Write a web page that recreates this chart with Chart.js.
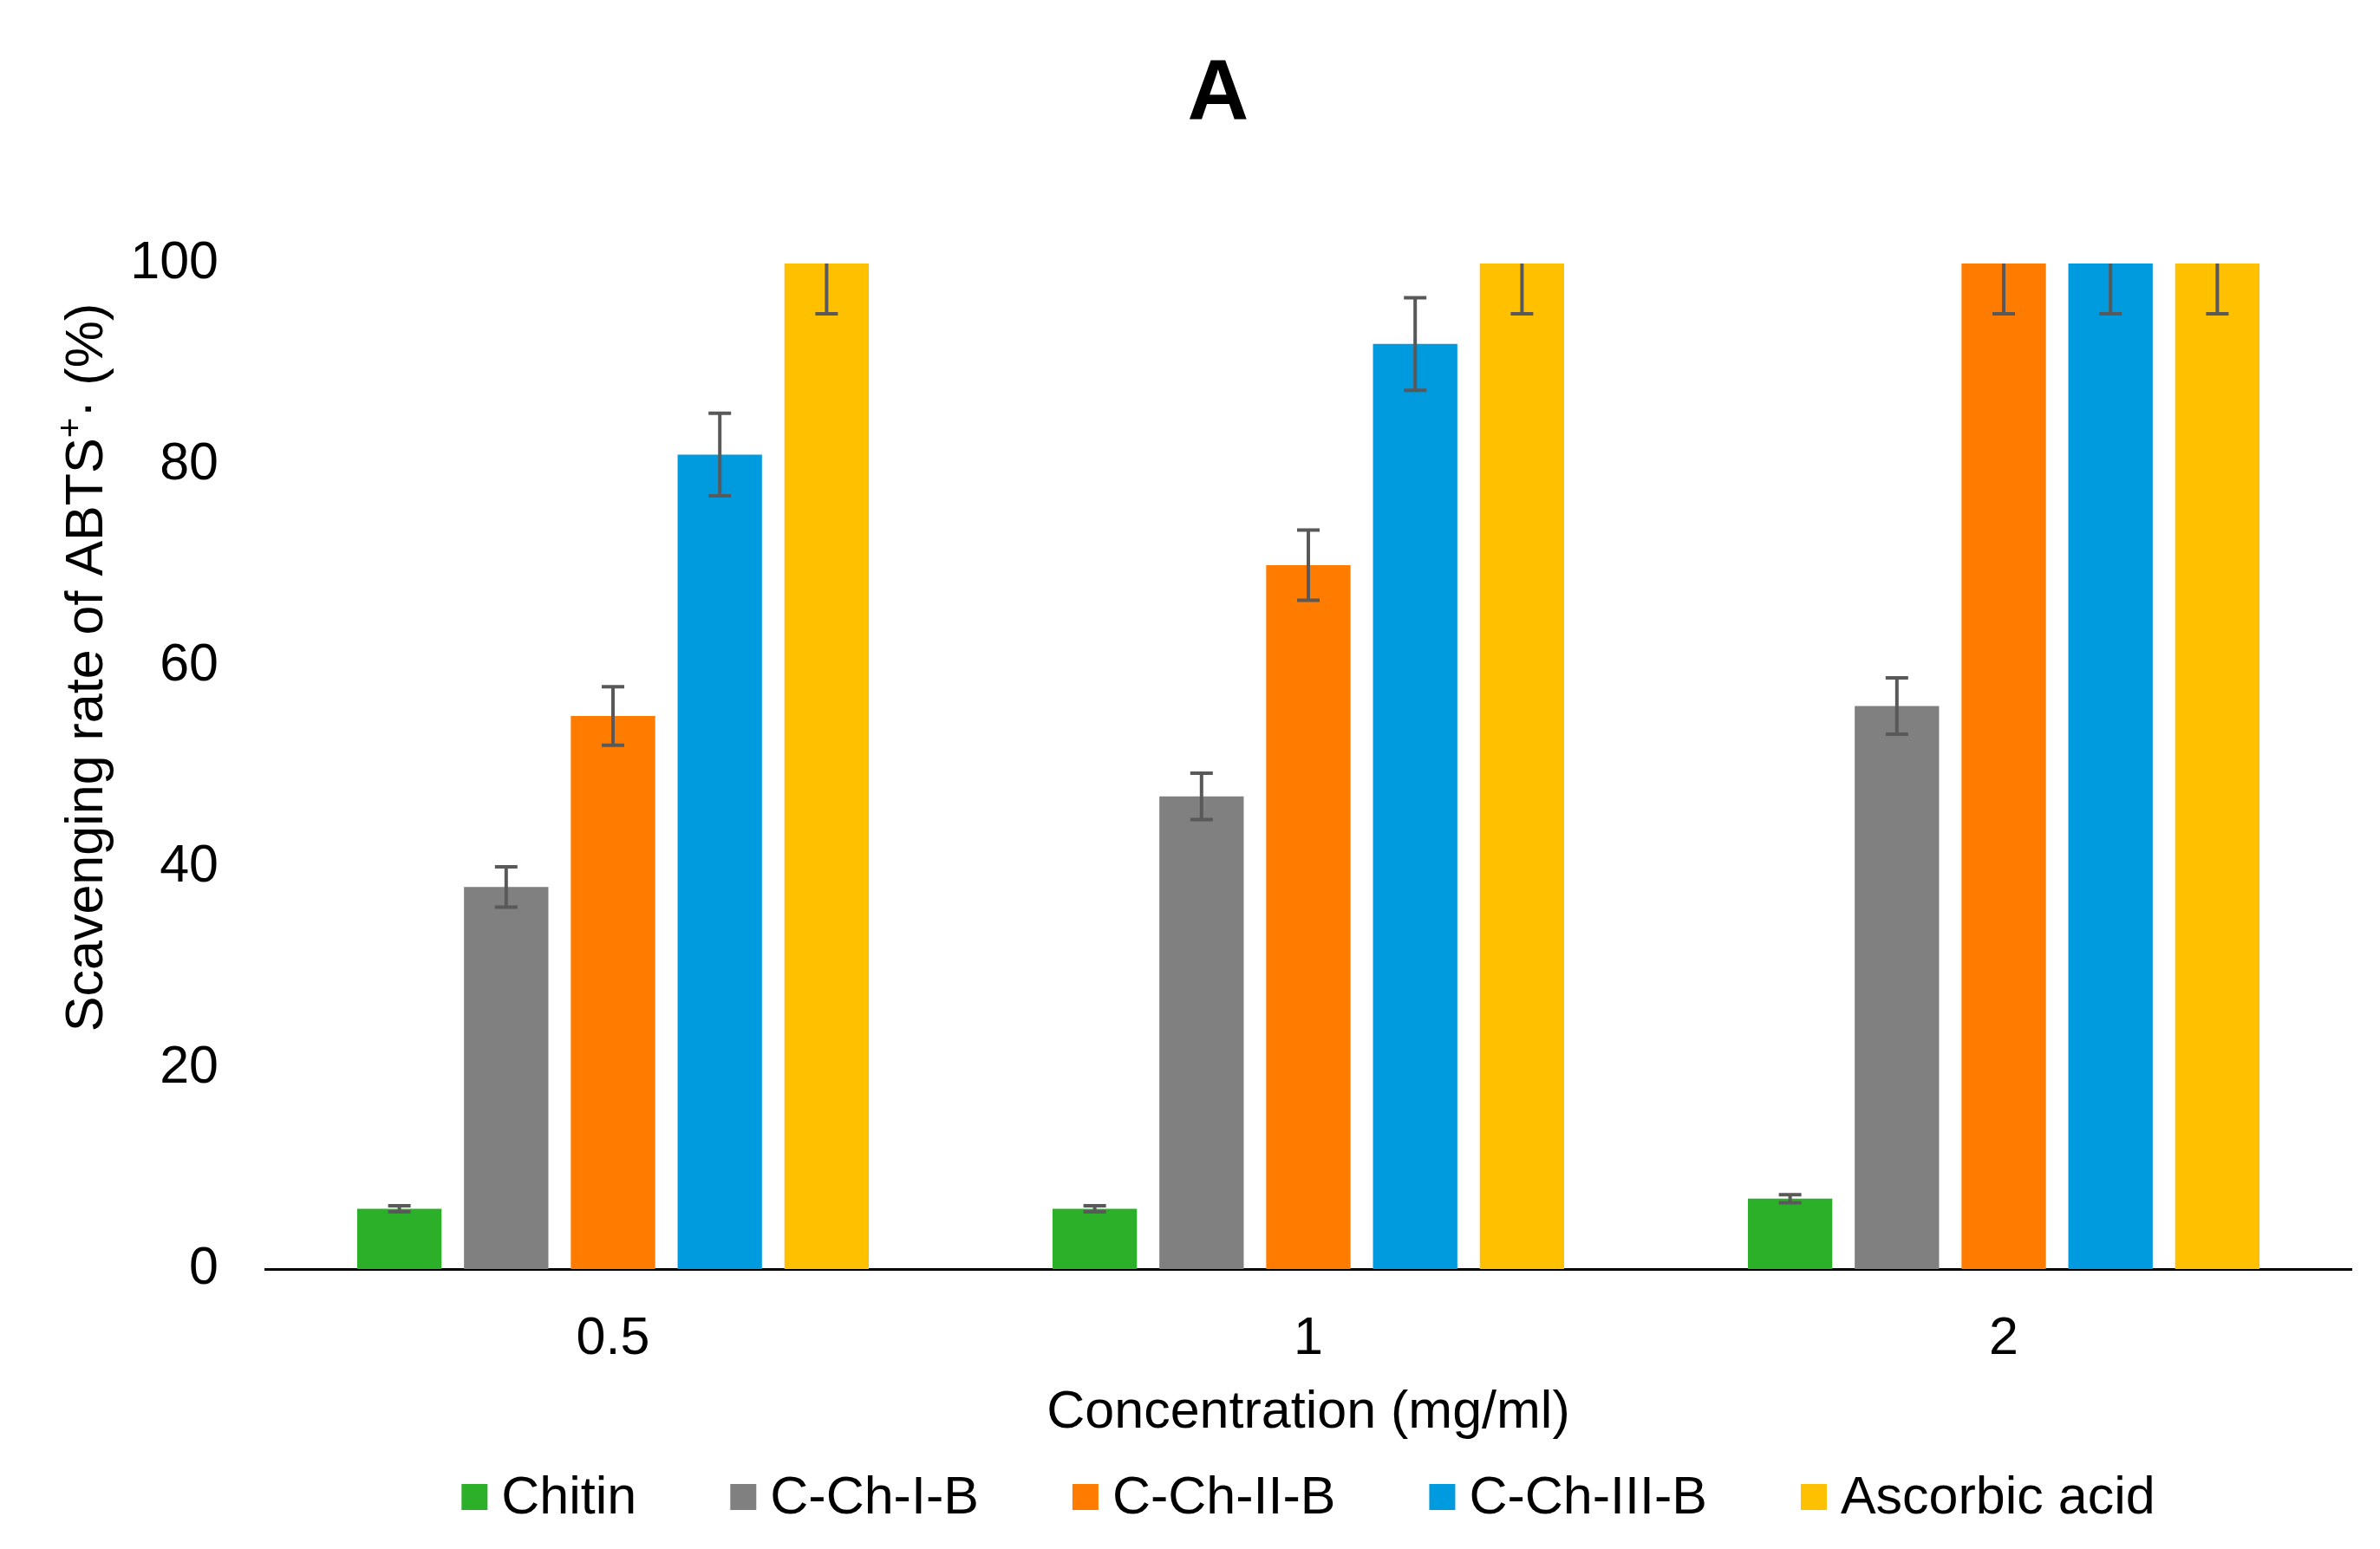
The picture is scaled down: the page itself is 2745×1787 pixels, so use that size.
<!DOCTYPE html>
<html>
<head>
<meta charset="utf-8">
<title>Scavenging rate of ABTS</title>
<script src="https://cdn.jsdelivr.net/npm/chart.js@4.4.1/dist/chart.umd.min.js"></script>
<style>
    html, body { margin: 0; padding: 0; background: #fff; }
    #abtsChart { display: block; }
</style>
</head>
<body>
<canvas id="abtsChart" width="2745" height="1787"></canvas>
<script>
// ============================================
// Data
// ============================================
const categories = ['0.5', '1', '2'];
const seriesNames = ['Chitin', 'C-Ch-I-B', 'C-Ch-II-B', 'C-Ch-III-B', 'Ascorbic acid'];
const seriesColors = ['#2cb02a', '#808080', '#ff7c00', '#009ade', '#ffc000'];

const chitin = [6, 6, 7];
const cch1 = [38, 47, 56];
const cch2 = [55, 70, 100];
const cch3 = [81, 92, 100];
const ascorbic = [100, 100, 100];

const chitinErr = [0.3, 0.3, 0.4];
const cch1Err = [2, 2.3, 2.8];
const cch2Err = [2.9, 3.5, 5];
const cch3Err = [4.1, 4.6, 5];
const ascorbicErr = [5, 5, 5];

const yTicks = [0, 20, 40, 60, 80, 100];

const FONT = "'Liberation Sans', Arial, sans-serif";

const seriesValues = [chitin, cch1, cch2, cch3, ascorbic];
const seriesErrors = [chitinErr, cch1Err, cch2Err, cch3Err, ascorbicErr];

// Error bars, clipped to the plot like the original
const errorBarPlugin = {
    id: 'errorBars',
    afterDatasetsDraw(chart) {
        const { ctx, chartArea, scales } = chart;
        ctx.save();
        ctx.beginPath();
        ctx.rect(chartArea.left, chartArea.top, chartArea.right - chartArea.left, chartArea.bottom - chartArea.top);
        ctx.clip();
        ctx.strokeStyle = '#595959';
        ctx.lineWidth = 4;
        chart.data.datasets.forEach((ds, di) => {
            const meta = chart.getDatasetMeta(di);
            meta.data.forEach((bar, i) => {
                const v = ds.data[i];
                const e = ds.errors[i];
                const yHi = scales.y.getPixelForValue(v + e);
                const yLo = scales.y.getPixelForValue(v - e);
                const x = bar.x;
                ctx.beginPath();
                ctx.moveTo(x, yHi); ctx.lineTo(x, yLo);
                ctx.moveTo(x - 13, yHi); ctx.lineTo(x + 13, yHi);
                ctx.moveTo(x - 13, yLo); ctx.lineTo(x + 13, yLo);
                ctx.stroke();
            });
        });
        ctx.restore();
    }
};

// Panel letter, y title (with superscript) and legend under the plot
const annotationsPlugin = {
    id: 'annotations',
    afterDraw(chart) {
        const { ctx, chartArea } = chart;
        ctx.save();
        ctx.fillStyle = '#000';

        // panel letter
        ctx.font = `bold 98px ${FONT}`;
        ctx.textAlign = 'center';
        ctx.textBaseline = 'middle';
        ctx.fillText('A', 1405, 110);

        // y axis title
        const parts = [
            { t: 'Scavenging rate of ABTS', size: 61, rise: 0 },
            { t: '+', size: 40, rise: 24 },
            { t: '\u00b7 (%)', size: 61, rise: 0 }
        ];
        let total = 0;
        parts.forEach(p => { ctx.font = `${p.size}px ${FONT}`; p.w = ctx.measureText(p.t).width; total += p.w; });
        ctx.translate(118, 770);
        ctx.rotate(-Math.PI / 2);
        ctx.textAlign = 'left';
        ctx.textBaseline = 'alphabetic';
        let x = -total / 2;
        parts.forEach(p => {
            ctx.font = `${p.size}px ${FONT}`;
            ctx.fillText(p.t, x, -p.rise);
            x += p.w;
        });
        ctx.setTransform(1, 0, 0, 1, 0, 0);

        // legend
        const box = 30, gap = 16, itemGap = 108, cy = 1727;
        ctx.font = `61px ${FONT}`;
        const widths = seriesNames.map(n => ctx.measureText(n).width);
        const legendW = widths.reduce((a, w) => a + box + gap + w, 0) + itemGap * (seriesNames.length - 1);
        let lx = (chartArea.left + chartArea.right) / 2 - legendW / 2;
        ctx.textBaseline = 'middle';
        seriesNames.forEach((n, i) => {
            ctx.fillStyle = seriesColors[i];
            ctx.fillRect(lx, cy - box / 2, box, box);
            ctx.fillStyle = '#000';
            ctx.fillText(n, lx + box + gap, cy + 2);
            lx += box + gap + widths[i] + itemGap;
        });
        ctx.restore();
    }
};

const datasets = seriesNames.map((name, i) => ({
    label: name,
    data: seriesValues[i],
    errors: seriesErrors[i],
    backgroundColor: seriesColors[i],
    borderWidth: 0,
    barPercentage: 0.79,
    categoryPercentage: 0.768
}));

new Chart(document.getElementById('abtsChart'), {
    type: 'bar',
    data: { labels: categories, datasets },
    options: {
        responsive: false,
        devicePixelRatio: 1,
        animation: false,
        layout: { padding: { top: 304, right: 33, bottom: 0, left: 0 } },
        plugins: {
            legend: { display: false },
            tooltip: { enabled: false }
        },
        scales: {
            x: {
                grid: { display: false, drawTicks: false },
                border: { display: true, color: '#000', width: 3 },
                ticks: { color: '#000', padding: 45, font: { family: FONT, size: 61 } },
                title: {
                    display: true,
                    text: 'Concentration (mg/ml)',
                    color: '#000',
                    font: { family: FONT, size: 61 },
                    padding: { top: 0, bottom: 120 }
                },
                afterFit(scale) { scale.height = 323; }
            },
            y: {
                min: 0,
                max: 100,
                grid: { display: false, drawTicks: false },
                border: { display: false },
                afterBuildTicks(scale) { scale.ticks = yTicks.map(v => ({ value: v })); },
                ticks: { color: '#000', padding: 54, font: { family: FONT, size: 61 } },
                afterFit(scale) { scale.width = 306; }
            }
        }
    },
    plugins: [errorBarPlugin, annotationsPlugin]
});
</script>
</body>
</html>
